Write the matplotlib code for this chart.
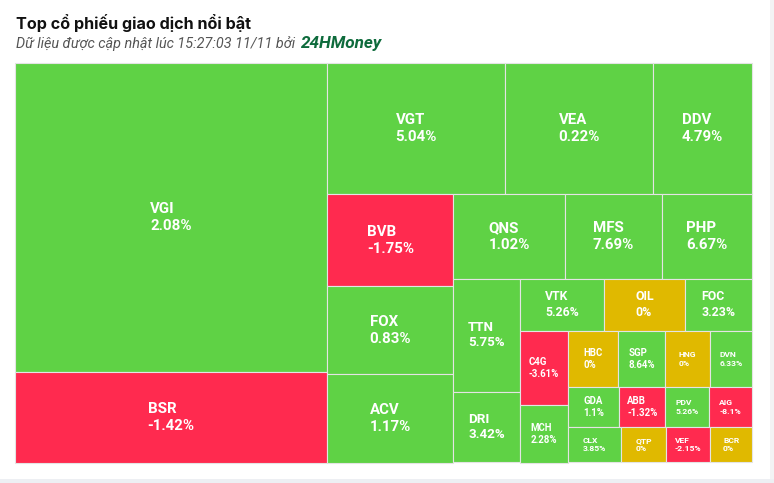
import matplotlib
matplotlib.use('Agg')
import matplotlib.pyplot as plt
from matplotlib.patches import Rectangle

# ma co phieu, % thay doi gia, gia tri giao dich (uoc luong theo dien tich o)
ma = ['VGI', 'BSR', 'VGT', 'VEA', 'DDV', 'BVB', 'FOX', 'ACV', 'QNS', 'MFS', 'PHP',
      'TTN', 'DRI', 'VTK', 'OIL', 'FOC', 'C4G', 'MCH',
      'HBC', 'SGP', 'HNG', 'DVN', 'GDA', 'ABB', 'PDV', 'AIG',
      'CLX', 'QTP', 'VEF', 'BCR']
thay_doi = [2.08, -1.42, 5.04, 0.22, 4.79, -1.75, 0.83, 1.17, 1.02, 7.69, 6.67,
            5.75, 3.42, 5.26, 0, 3.23, -3.61, 2.28,
            0, 8.64, 0, 6.33, 1.1, -1.32, 5.26, -8.1,
            3.85, 0, -2.15, 0]
gia_tri = [967, 281, 235, 195, 130, 116, 111, 111, 94, 81, 76,
           75, 47, 44, 42, 35, 36, 28,
           28, 27, 25, 24, 20, 18, 17, 17,
           19, 16, 16, 15]

tieu_de = 'Top cổ phiếu giao dịch nổi bật'
phu_de = 'Dữ liệu được cập nhật lúc 15:27:03 11/11 bởi '
nguon = '24HMoney'

# cach chia o: 'h' xep ngang, 'v' xep doc
bo_cuc = ('h', [('v', ['VGI', 'BSR']),
                ('v', [('h', ['VGT', 'VEA', 'DDV']),
                       ('h', [('v', ['BVB', 'FOX', 'ACV']),
                              ('v', [('h', ['QNS', 'MFS', 'PHP']),
                                     ('h', [('v', ['TTN', 'DRI']),
                                            ('v', [('h', ['VTK', 'OIL', 'FOC']),
                                                   ('h', [('v', ['C4G', 'MCH']),
                                                          ('v', [('h', ['HBC', 'SGP', 'HNG', 'DVN']),
                                                                 ('h', ['GDA', 'ABB', 'PDV', 'AIG']),
                                                                 ('h', ['CLX', 'QTP', 'VEF', 'BCR'])])])])])])])])])

XANH, DO, VANG = '#5fd245', '#ff2a4f', '#e0b900'
co_chu = {'TTN': 9.6, 'DRI': 9.6, 'VTK': 8.8, 'OIL': 8.8, 'FOC': 8.8,
          'C4G': 6.9, 'MCH': 6.9, 'HBC': 6.9, 'SGP': 6.9, 'GDA': 6.9, 'ABB': 6.9}
for m in ['HNG', 'DVN', 'PDV', 'AIG', 'CLX', 'QTP', 'VEF', 'BCR']:
    co_chu[m] = 6.1

gt = dict(zip(ma, gia_tri))
pct = dict(zip(ma, thay_doi))


def tong(node):
    if isinstance(node, str):
        return gt[node]
    return sum(tong(c) for c in node[1])


def chia(node, x, y, w, h, out):
    if isinstance(node, str):
        out[node] = (x, y, w, h)
        return
    huong, con = node
    s = tong(node)
    for c in con:
        f = tong(c) / s
        if huong == 'h':
            chia(c, x, y, w * f, h, out)
            x += w * f
        else:
            chia(c, x, y, w, h * f, out)
            y += h * f


fig = plt.figure(figsize=(7.74, 4.83), dpi=100)
ax = fig.add_axes([0, 0, 1, 1])
ax.set_xlim(0, 774)
ax.set_ylim(483, 0)
ax.axis('off')

ax.add_patch(Rectangle((770, 0), 4, 483, color='#f3f3f4', lw=0))
ax.add_patch(Rectangle((0, 479), 774, 4, color='#edeff3', lw=0))

o = {}
chia(bo_cuc, 15, 62.5, 737, 400, o)
for m in ma:
    x, y, w, h = o[m]
    v = pct[m]
    mau = XANH if v > 0 else DO if v < 0 else VANG
    ax.add_patch(Rectangle((x, y), w, h, facecolor=mau, edgecolor='#e4e4e4', lw=0.8))
    ax.text(x + w / 2, y + h / 2, f'{m}\n{v:g}%', ha='center', va='center',
            multialignment='left', linespacing=1.25, color='white',
            fontsize=co_chu.get(m, 10.8), fontweight='bold', family='Roboto')

ax.text(16, 29, tieu_de, fontsize=11.6, fontweight='bold', family='Inter',
        color='#111111', va='baseline')
t = ax.text(16, 48, phu_de, fontsize=10.4, style='italic', family='Roboto',
            color='#555555', va='baseline')
fig.canvas.draw()
bb = t.get_window_extent().transformed(ax.transData.inverted())
ax.text(bb.x1 + 2, 48, nguon, fontsize=12.3, style='italic', fontweight='bold',
        family='Roboto', color='#0e6b3c', va='baseline')

fig.savefig('out.png', dpi=100)
